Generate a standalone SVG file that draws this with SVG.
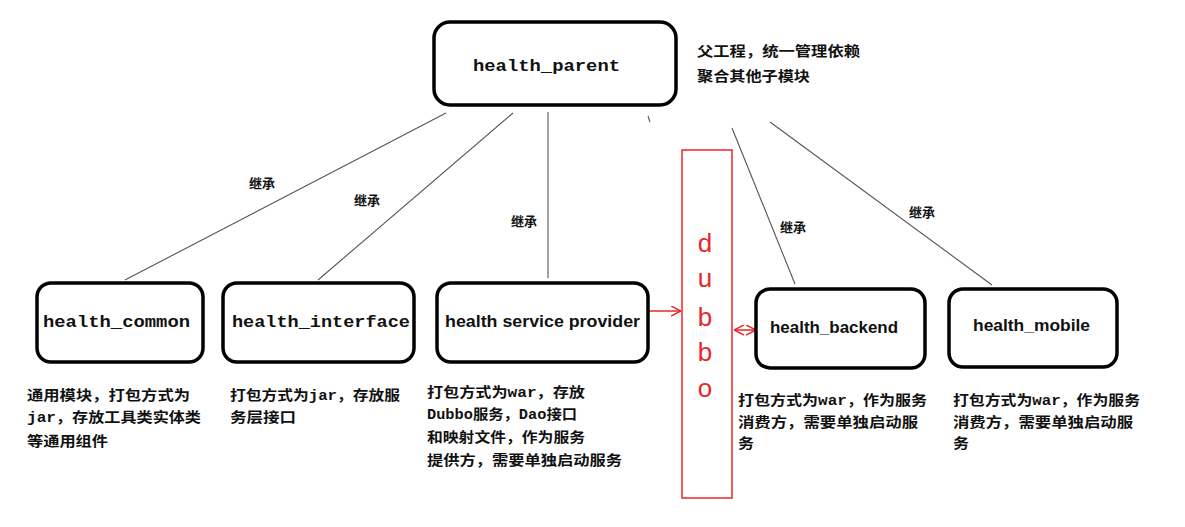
<svg xmlns="http://www.w3.org/2000/svg" width="1185" height="527" viewBox="0 0 1185 527">
<style>
.box{fill:#fff;stroke:#000;stroke-width:3.5}
.mono{font-family:"Liberation Mono","DejaVu Sans Mono",monospace;font-weight:bold;font-size:17px;fill:#111}
.sans{font-family:"Liberation Sans","Noto Sans",sans-serif;font-weight:bold;font-size:17px;fill:#111}
.cn{font-family:"Liberation Mono","Noto Sans CJK SC",sans-serif;font-weight:bold;font-size:14px;fill:#111}
.lbl{font-family:"Noto Sans CJK SC",sans-serif;font-weight:bold;font-size:13px;fill:#111}
.ln{stroke:#555;stroke-width:1.1;fill:none}
.red{stroke:#e8262a;stroke-width:1.5;fill:none}
.dub{font-family:"Liberation Sans",Arial,sans-serif;font-size:26px;fill:#e8262a}
</style>
<defs>
<marker id="ah" viewBox="0 0 10 10" refX="10" refY="5" markerWidth="10" markerHeight="11" orient="auto-start-reverse" markerUnits="userSpaceOnUse">
<path d="M0,0 L10,5 L0,10" fill="none" stroke="#e8262a" stroke-width="1.5"/>
</marker>
</defs>
<rect width="1185" height="527" fill="#fff"/>
<g id="connectors">
<line class="ln" x1="446" y1="113" x2="125" y2="280"/>
<line class="ln" x1="513" y1="113" x2="318" y2="280"/>
<line class="ln" x1="548" y1="112" x2="548" y2="278"/>
<line class="ln" x1="648" y1="116" x2="650" y2="122"/>
<line class="ln" x1="732" y1="128" x2="795" y2="284"/>
<line class="ln" x1="770" y1="122" x2="992" y2="285"/>
<text class="lbl" x="249" y="188">继承</text>
<text class="lbl" x="354" y="205">继承</text>
<text class="lbl" x="511" y="226">继承</text>
<text class="lbl" x="780" y="232">继承</text>
<text class="lbl" x="909" y="217">继承</text>
<line class="red" x1="648" y1="311" x2="681" y2="311" marker-end="url(#ah)"/>
<line class="red" x1="734" y1="330" x2="756" y2="330" marker-start="url(#ah)" marker-end="url(#ah)"/>
</g>
<g id="health_parent">
<rect class="box" x="434" y="22" width="242" height="83" rx="16"/>
<text class="mono" x="473" y="71" textLength="147" lengthAdjust="spacingAndGlyphs">health_parent</text>
<text class="cn" x="697" y="56" textLength="163" lengthAdjust="spacingAndGlyphs">父工程，统一管理依赖</text>
<text class="cn" x="697" y="81" textLength="113" lengthAdjust="spacingAndGlyphs">聚合其他子模块</text>
</g>
<g id="health_common">
<rect class="box" x="37" y="283" width="166" height="79" rx="14"/>
<text class="mono" x="43" y="327" textLength="147" lengthAdjust="spacingAndGlyphs">health_common</text>
<text class="cn" x="27" y="400" textLength="163" lengthAdjust="spacingAndGlyphs">通用模块，打包方式为</text>
<text class="cn" x="27" y="422" textLength="174" lengthAdjust="spacingAndGlyphs">jar，存放工具类实体类</text>
<text class="cn" x="27" y="446" textLength="81" lengthAdjust="spacingAndGlyphs">等通用组件</text>
</g>
<g id="health_interface">
<rect class="box" x="223" y="283" width="191" height="79" rx="14"/>
<text class="mono" x="232" y="327" textLength="178" lengthAdjust="spacingAndGlyphs">health_interface</text>
<text class="cn" x="230" y="400" textLength="170" lengthAdjust="spacingAndGlyphs">打包方式为jar，存放服</text>
<text class="cn" x="230" y="422" textLength="66" lengthAdjust="spacingAndGlyphs">务层接口</text>
</g>
<g id="health_service_provider">
<rect class="box" x="437" y="283" width="211" height="79" rx="14"/>
<text class="sans" x="445" y="327" textLength="195" lengthAdjust="spacingAndGlyphs">health service provider</text>
<text class="cn" x="427" y="397" textLength="158" lengthAdjust="spacingAndGlyphs">打包方式为war，存放</text>
<text class="cn" x="427" y="419" textLength="150" lengthAdjust="spacingAndGlyphs">Dubbo服务，Dao接口</text>
<text class="cn" x="427" y="442" textLength="158" lengthAdjust="spacingAndGlyphs">和映射文件，作为服务</text>
<text class="cn" x="427" y="465" textLength="195" lengthAdjust="spacingAndGlyphs">提供方，需要单独启动服务</text>
</g>
<g id="dubbo">
<rect x="682" y="150" width="50" height="348" fill="none" stroke="#e8262a" stroke-width="1.5"/>
<text class="dub" x="705" y="252" text-anchor="middle">d</text>
<text class="dub" x="705" y="287" text-anchor="middle">u</text>
<text class="dub" x="705" y="326" text-anchor="middle">b</text>
<text class="dub" x="705" y="361" text-anchor="middle">b</text>
<text class="dub" x="705" y="397" text-anchor="middle">o</text>
</g>
<g id="health_backend">
<rect class="box" x="756" y="289" width="169" height="79" rx="14"/>
<text class="sans" x="770" y="333" textLength="128" lengthAdjust="spacingAndGlyphs">health_backend</text>
<text class="cn" x="738" y="405" textLength="189" lengthAdjust="spacingAndGlyphs">打包方式为war，作为服务</text>
<text class="cn" x="738" y="427" textLength="180" lengthAdjust="spacingAndGlyphs">消费方，需要单独启动服</text>
<text class="cn" x="738" y="448" textLength="16" lengthAdjust="spacingAndGlyphs">务</text>
</g>
<g id="health_mobile">
<rect class="box" x="949" y="289" width="168" height="78" rx="14"/>
<text class="sans" x="973" y="331" textLength="117" lengthAdjust="spacingAndGlyphs">health_mobile</text>
<text class="cn" x="953" y="405" textLength="187" lengthAdjust="spacingAndGlyphs">打包方式为war，作为服务</text>
<text class="cn" x="953" y="427" textLength="180" lengthAdjust="spacingAndGlyphs">消费方，需要单独启动服</text>
<text class="cn" x="953" y="448" textLength="16" lengthAdjust="spacingAndGlyphs">务</text>
</g>
</svg>
